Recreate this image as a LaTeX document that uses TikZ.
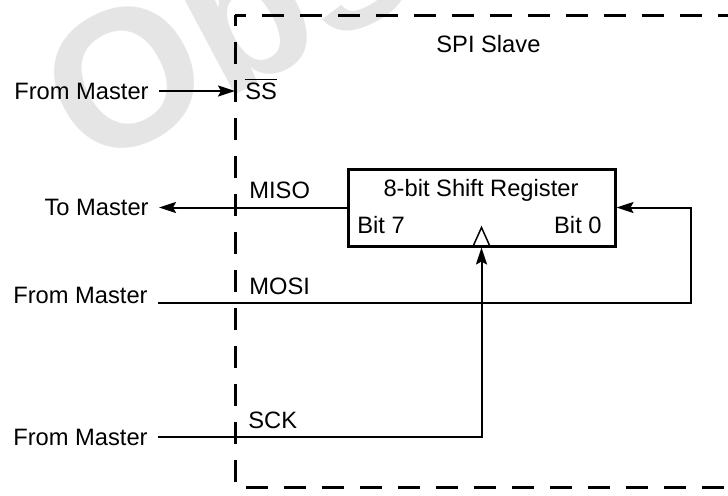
\documentclass[tikz,border=0pt]{standalone}
\usepackage{fontspec}
\setmainfont{Liberation Sans}
\usetikzlibrary{arrows.meta,positioning}
\definecolor{wmgray}{RGB}{229,229,229}

\begin{document}
\begin{tikzpicture}[x=0.5pt,y=-0.5pt,
		font=\fontsize{11.85}{14}\selectfont,
		wire/.style={line width=1pt},
		sigarrow/.style={wire,-{Stealth[length=8.5pt,width=5.5pt,inset=1.5pt]}},
		pinname/.style={inner sep=0pt,anchor=base west},
		mastertext/.style={inner xsep=5pt,inner ysep=0pt,anchor=east},
		slavebox/.style={line width=1.5pt,dash pattern=on 11pt off 8pt,dash phase=5.5pt},
		regbox/.style={draw,line width=1.5pt,minimum width=133.5pt,minimum height=38.5pt,inner sep=0pt}]
		\useasboundingbox (0,0) rectangle (728,495);
		% watermark
		\begin{scope}
			\clip (0,0) rectangle (728,495);
			\node[rotate=28,anchor=base west,inner sep=0pt,text=wmgray,font=\fontsize{97.5}{100}\selectfont\bfseries] (stamp) at (89,173) {Obsolete};
		\end{scope}
		% slave outline
		\draw[slavebox] (235,15) -- (740,15);
		\draw[slavebox] (235,15) -- (235,487) -- (740,487);
		\node[pinname] (slave) at (436,52) {SPI Slave};
		% slave select
		\node[mastertext] (ssfrom) at (159,91) {From Master};
		\coordinate (sspin) at (235,91);
		\node[pinname] (ss) at (245,99) {$\overline{\mbox{SS}}$};
		\draw[sigarrow] (ssfrom.east) -- (sspin);
		% shift register
		\node[regbox] (reg) at (481.5,207.5) {};
		\node[anchor=base,inner sep=0pt] (regname) at (481,196) {8-bit Shift Register};
		\node[pinname] (bit7) at (357,233) {Bit 7};
		\node[anchor=base east,inner sep=0pt] (bit0) at (602,233) {Bit 0};
		\coordinate (clk) at (reg.south);
		\draw[line width=0.75pt] ([xshift=-4.5pt]clk) -- ([yshift=10pt]clk) -- ([xshift=4.5pt]clk);
		% MISO
		\node[pinname] (miso) at (249,198) {MISO};
		\node[mastertext] (tomaster) at (159,207.5) {To Master};
		\draw[sigarrow] (reg.west) -- (tomaster.east);
		% MOSI
		\node[pinname] (mosi) at (249,294) {MOSI};
		\node[mastertext,anchor=base east] (mosifrom) at (158,303) {From Master};
		\coordinate (loop) at (691,303);
		\draw[sigarrow] (mosifrom.base east) -- (loop) |- (reg.east);
		% SCK
		\node[pinname] (sck) at (248,428) {SCK};
		\node[mastertext] (sckfrom) at (158,437) {From Master};
		\draw[sigarrow] (sckfrom.east) -| (clk);
\end{tikzpicture}
\end{document}
